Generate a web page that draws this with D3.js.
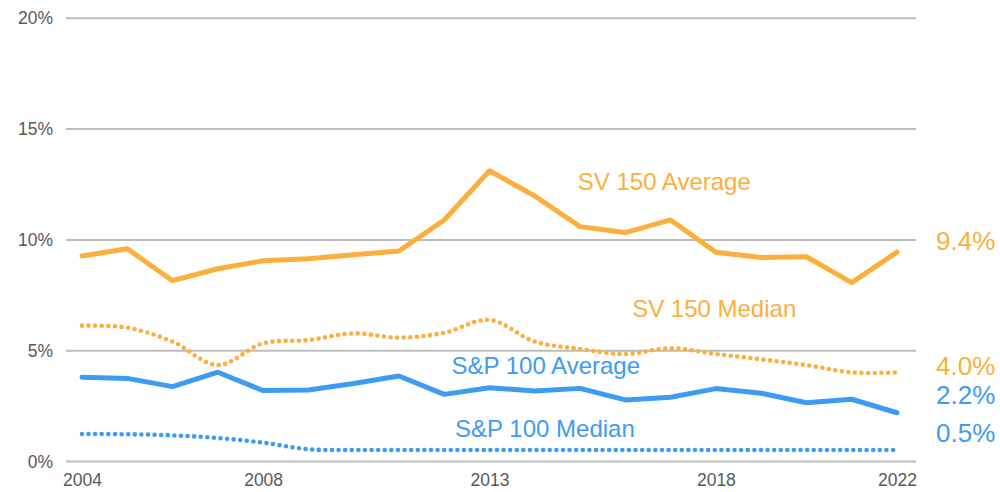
<!DOCTYPE html>
<html>
<head>
<meta charset="utf-8">
<script src="https://cdn.jsdelivr.net/npm/d3@7"></script>
<style>
  html, body { margin: 0; padding: 0; background: #fff; }
  svg { display: block; font-family: "Liberation Sans", Arial, sans-serif; }
</style>
</head>
<body>
<svg id="chart" width="1000" height="492"></svg>
<script>
const years = [2004,2005,2006,2007,2008,2009,2010,2011,2012,2013,2014,2015,2016,2017,2018,2019,2020,2021,2022];
const sv150Average = [9.27,9.60,8.16,8.70,9.06,9.15,9.33,9.50,10.90,13.12,11.98,10.60,10.33,10.90,9.44,9.21,9.24,8.07,9.45];
const sv150Median  = [6.13,6.04,5.41,4.35,5.33,5.48,5.78,5.59,5.81,6.39,5.41,5.08,4.85,5.11,4.85,4.61,4.35,4.02,4.02];
const sp100Average = [3.80,3.75,3.38,4.03,3.20,3.23,3.52,3.86,3.03,3.33,3.18,3.30,2.78,2.90,3.29,3.08,2.65,2.81,2.20];
const sp100Median  = [1.24,1.23,1.18,1.06,0.85,0.55,0.52,0.52,0.52,0.52,0.52,0.52,0.52,0.52,0.52,0.52,0.52,0.52,0.52];
const yTicks = [0,5,10,15,20];
const xTickYears = [2004,2008,2013,2018,2022];
const seriesNames = ["SV 150 Average","SV 150 Median","S&P 100 Average","S&P 100 Median"];
const endLabels = ["9.4%","4.0%","2.2%","0.5%"];

const ORANGE = "#FBAF3C", BLUE = "#3D9BF3", GRID = "#BDBDBD", TEXT = "#595959";

const svg = d3.select("#chart");
const x = d3.scaleLinear().domain([2004, 2022]).range([82, 897]);
const y = d3.scaleLinear().domain([0, 20]).range([461.5, 18.3]);
const gridX0 = 66, gridX1 = 916;

// gridlines
svg.append("g").selectAll("line").data(yTicks).join("line")
  .attr("x1", gridX0).attr("x2", gridX1)
  .attr("y1", d => y(d)).attr("y2", d => y(d))
  .attr("stroke", GRID).attr("stroke-width", 2);

// y axis labels
const yAxis = svg.append("g").attr("transform", `translate(${gridX0},0)`)
  .call(d3.axisLeft(y).tickValues(yTicks).tickSize(0).tickPadding(13).tickFormat(d => d + "%"));
yAxis.select(".domain").remove();
yAxis.selectAll("text").attr("fill", TEXT).style("font-size", "17.5px")
  .style("font-family", '"Liberation Sans", Arial, sans-serif');

// x axis labels
const xAxis = svg.append("g").attr("transform", `translate(0,${y(0)})`)
  .call(d3.axisBottom(x).tickValues(xTickYears).tickSize(0).tickPadding(12).tickFormat(d3.format("d")));
xAxis.select(".domain").remove();
xAxis.selectAll("text").attr("fill", TEXT).style("font-size", "17.5px")
  .style("font-family", '"Liberation Sans", Arial, sans-serif');

const straight = d3.line().x((d, i) => x(years[i])).y(d => y(d));
const smooth = d3.line().x((d, i) => x(years[i])).y(d => y(d)).curve(d3.curveCatmullRom.alpha(0.5));

function solid(data, color) {
  svg.append("path").datum(data).attr("d", straight)
    .attr("fill", "none").attr("stroke", color).attr("stroke-width", 5)
    .attr("stroke-linejoin", "round").attr("stroke-linecap", "round");
}
function dotted(data, color) {
  svg.append("path").datum(data).attr("d", smooth)
    .attr("fill", "none").attr("stroke", color).attr("stroke-width", 4.6)
    .attr("stroke-dasharray", "0 6.6").attr("stroke-linecap", "round");
}
dotted(sv150Median, ORANGE);
dotted(sp100Median, BLUE);
solid(sv150Average, ORANGE);
solid(sp100Average, BLUE);

// series labels (anchored in data coordinates)
const labelPos = [[2014.95, 12.25], [2016.15, 6.53], [2012.16, 3.93], [2012.24, 1.09]];
const labelColors = [ORANGE, ORANGE, BLUE, BLUE];
svg.append("g").selectAll("text").data(seriesNames).join("text")
  .attr("x", (d, i) => x(labelPos[i][0])).attr("y", (d, i) => y(labelPos[i][1]))
  .attr("fill", (d, i) => labelColors[i]).style("font-size", "24px").text(d => d);

// end value labels
const endY = [9.54, 3.90, 2.58, 0.89];
svg.append("g").selectAll("text").data(endLabels).join("text")
  .attr("x", 936).attr("y", (d, i) => y(endY[i]))
  .attr("fill", (d, i) => labelColors[i]).style("font-size", "26px").text(d => d);
</script>
</body>
</html>
